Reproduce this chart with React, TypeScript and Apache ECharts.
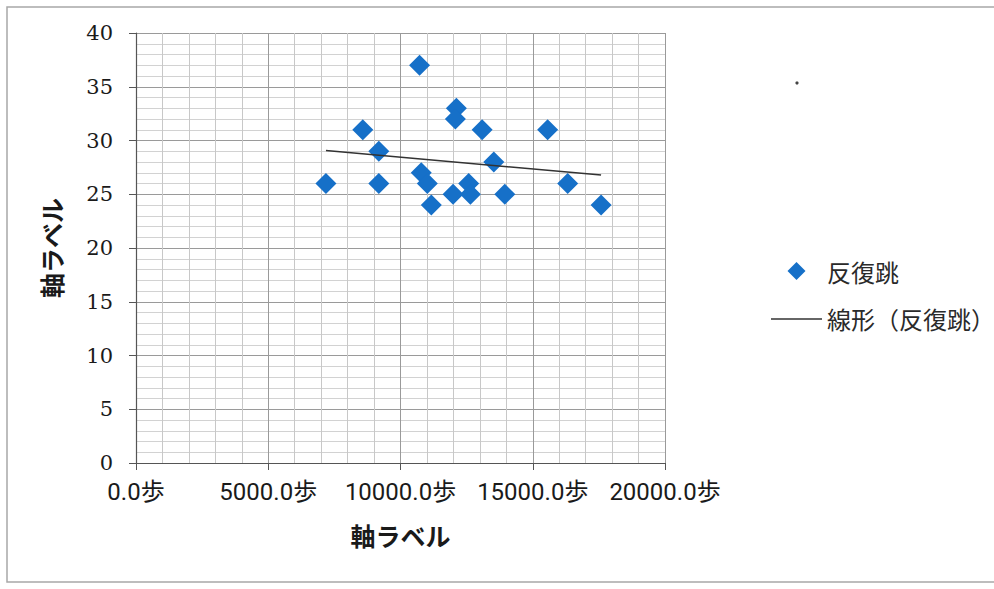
import React, { useEffect, useRef } from "react";
import * as echarts from "echarts";

// 歩数 (steps) and 反復跳 (repeated side-jump count) per subject
const steps: number[] = [
  7182, 8574, 9181, 9181, 10720, 10785, 11013, 11165, 12112, 12074,
  11987, 12579, 12643, 13087, 13527, 13944, 15563, 16322, 17584,
];
const jumps: number[] = [
  26, 31, 29, 26, 37, 27, 26, 24, 33, 32,
  25, 26, 25, 31, 28, 25, 31, 26, 24,
];

const seriesName = "反復跳";
const trendName = "線形（反復跳）";
const axisTitle = "軸ラベル";
const stepUnit = "歩";

// least-squares line over the measured points, spanning the data's x range
function linearTrend(xs: number[], ys: number[]): number[][] {
  const n = xs.length;
  const mx = xs.reduce((a, b) => a + b, 0) / n;
  const my = ys.reduce((a, b) => a + b, 0) / n;
  let sxy = 0;
  let sxx = 0;
  for (let i = 0; i < n; i++) {
    sxy += (xs[i] - mx) * (ys[i] - my);
    sxx += (xs[i] - mx) * (xs[i] - mx);
  }
  const slope = sxy / sxx;
  const icpt = my - slope * mx;
  const x0 = Math.min(...xs);
  const x1 = Math.max(...xs);
  return [
    [x0, icpt + slope * x0],
    [x1, icpt + slope * x1],
  ];
}

export default function App() {
  const ref = useRef<HTMLDivElement>(null);

  useEffect(() => {
    if (!ref.current) return;
    const chart = echarts.init(ref.current, undefined, { renderer: "svg" });
    const points = steps.map((s, i) => [s, jumps[i]]);
    const cjk = "'Noto Sans CJK JP', sans-serif";

    chart.setOption({
      animation: false,
      backgroundColor: "#ffffff",
      grid: { left: 136, right: 329, top: 33, bottom: 126 },
      xAxis: {
        type: "value",
        min: 0,
        max: 20000,
        interval: 5000,
        name: axisTitle,
        nameLocation: "middle",
        nameGap: 59,
        nameTextStyle: { fontFamily: cjk, fontSize: 25, fontWeight: "bold", color: "#1a1a1a" },
        axisLine: { show: true, lineStyle: { color: "#555", width: 1.2 } },
        axisTick: { show: true, length: 7, lineStyle: { color: "#555" } },
        axisLabel: {
          margin: 17,
          fontFamily: "Roboto, 'Noto Sans CJK JP', sans-serif",
          fontSize: 24,
          color: "#1a1a1a",
          formatter: (v: number) => v.toFixed(1) + stepUnit,
        },
        splitLine: { show: true, lineStyle: { color: "#9a9a9a", width: 1 } },
        minorTick: { show: false, splitNumber: 5 },
        minorSplitLine: { show: true, lineStyle: { color: "#c8c8c8", width: 1 } },
      },
      yAxis: {
        type: "value",
        min: 0,
        max: 40,
        interval: 5,
        name: axisTitle,
        nameLocation: "middle",
        nameGap: 73,
        nameRotate: 90,
        nameTextStyle: { fontFamily: cjk, fontSize: 25, fontWeight: "bold", color: "#1a1a1a" },
        axisLine: { show: true, lineStyle: { color: "#555", width: 1.2 } },
        axisTick: { show: true, length: 7, lineStyle: { color: "#555" } },
        axisLabel: {
          margin: 23,
          fontFamily: "'DejaVu Serif', serif",
          fontSize: 21,
          color: "#1a1a1a",
        },
        splitLine: { show: true, lineStyle: { color: "#9a9a9a", width: 1 } },
        minorTick: { show: false, splitNumber: 5 },
        minorSplitLine: { show: true, lineStyle: { color: "#d2d2d2", width: 1 } },
      },
      legend: {
        orient: "vertical",
        left: 766,
        top: 254,
        itemWidth: 51,
        itemHeight: 18,
        itemGap: 24,
        symbolKeepAspect: true,
        textStyle: { fontFamily: cjk, fontSize: 24, color: "#2a2a2a" },
        data: [
          { name: seriesName, icon: "path://M0,-1L1,0L0,1L-1,0Z" },
          { name: trendName, icon: "path://M0,0H51V1.6H0Z" },
        ],
      },
      series: [
        {
          name: seriesName,
          type: "scatter",
          symbol: "diamond",
          symbolSize: 21,
          itemStyle: { color: "#1670c8", opacity: 1 },
          data: points,
          z: 3,
        },
        {
          name: trendName,
          type: "line",
          symbol: "none",
          showSymbol: false,
          lineStyle: { color: "#333", width: 1.5 },
          itemStyle: { color: "#333" },
          data: linearTrend(steps, jumps),
          z: 4,
        },
      ],
      graphic: [
        {
          type: "rect",
          shape: { x: 7, y: 7, width: 1000, height: 575 },
          style: { fill: "none", stroke: "#a8a8a8", lineWidth: 1.5 },
          silent: true,
        },
        {
          type: "circle",
          shape: { cx: 797, cy: 83, r: 1.6 },
          style: { fill: "#444" },
          silent: true,
        },
      ],
    });

    return () => chart.dispose();
  }, []);

  return (
    <div
      ref={ref}
      style={{ position: "absolute", left: 0, top: 0, width: 994, height: 589, background: "#fff" }}
    />
  );
}
